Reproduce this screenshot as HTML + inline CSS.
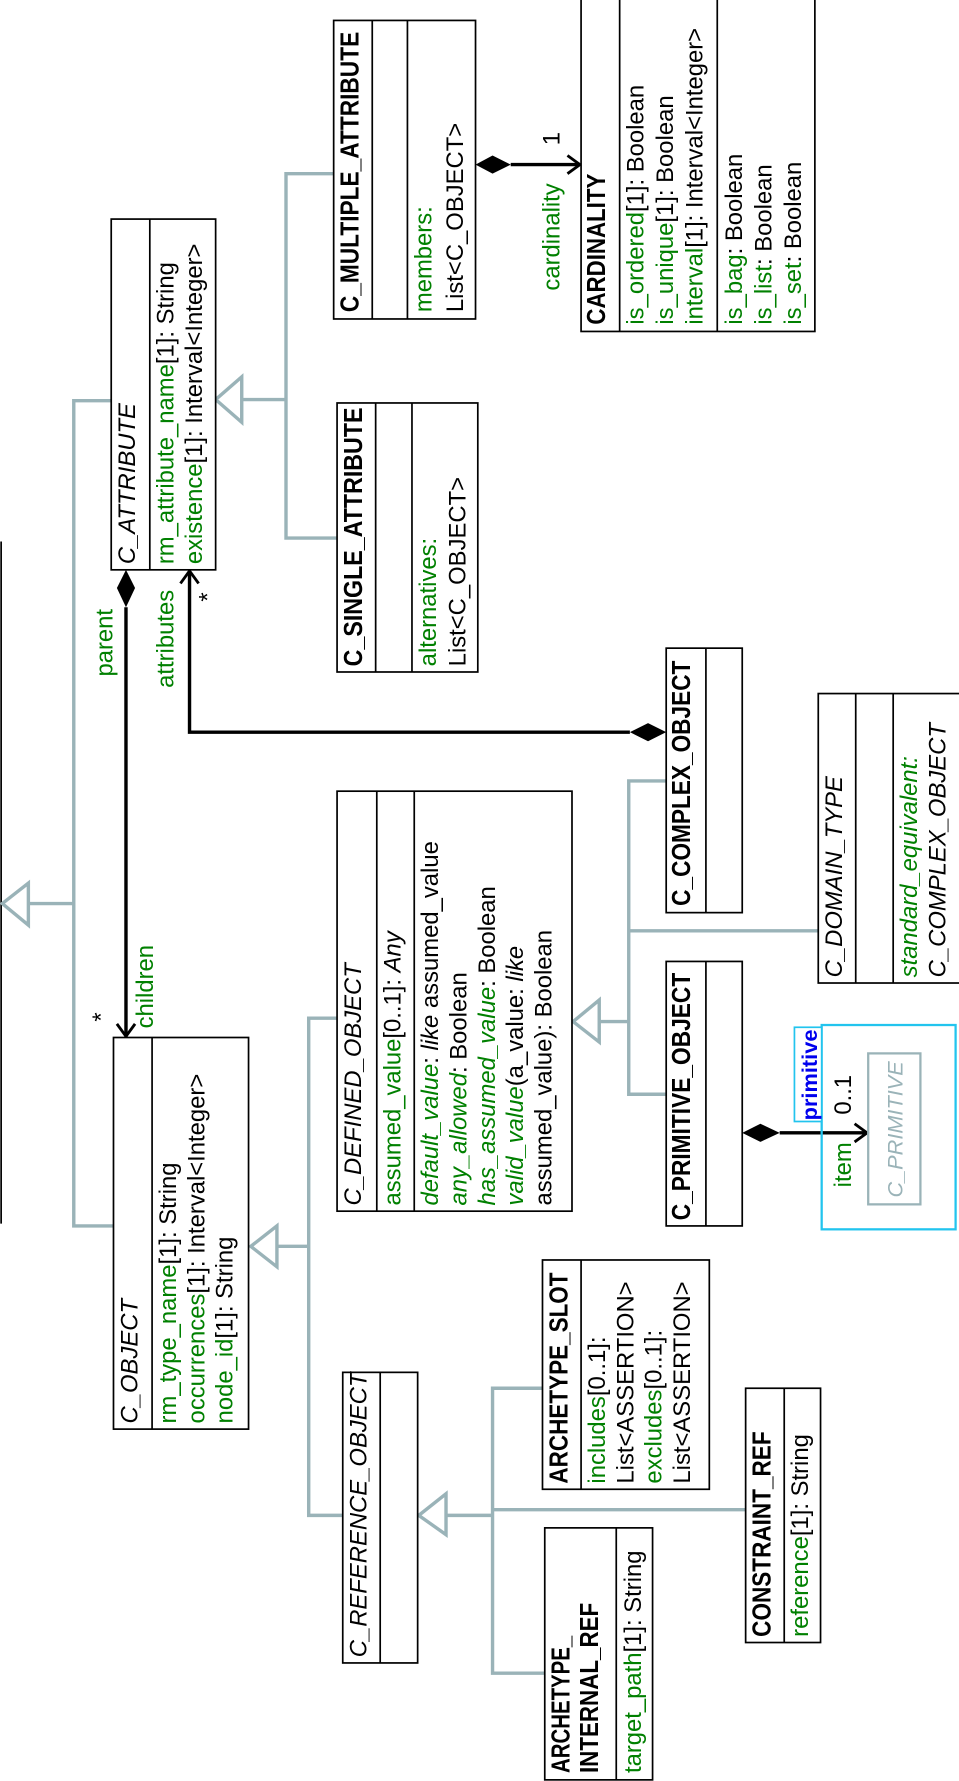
<!DOCTYPE html>
<html><head><meta charset="utf-8"><style>
html,body{margin:0;padding:0;background:#fff;}
svg{display:block;}
text{font-family:"Liberation Sans",sans-serif;font-size:21px;fill:#000;}
.b{font-weight:bold;font-size:23px;}
.i{font-style:italic;}
.g{fill:#008000;}
</style></head><body>
<svg width="959" height="1781" viewBox="0 0 845 1569" preserveAspectRatio="none" xmlns="http://www.w3.org/2000/svg">
<g fill="none" stroke="#9ab3b8" stroke-width="3">
<line x1="1" y1="477" x2="1" y2="1078" stroke="#000" stroke-width="1.5"/>
<polyline points="98,353 65,353 65,1080 100,1080"/>
<line x1="25" y1="796" x2="65" y2="796"/>
<polygon points="2,796 25,778 25,815" fill="#fff"/>
<polyline points="294,153 252,153 252,474 297,474"/>
<line x1="213" y1="352" x2="252" y2="352"/>
<polygon points="190,352 213,332 213,372" fill="#fff"/>
<polyline points="587,688 554,688 554,964 587,964"/>
<line x1="554" y1="820" x2="721" y2="820"/>
<line x1="528" y1="900" x2="554" y2="900"/>
<polygon points="505,900 528,881 528,918" fill="#fff"/>
<polyline points="297,897 272,897 272,1335 302,1335"/>
<line x1="244" y1="1098" x2="272" y2="1098"/>
<polygon points="221,1098 244,1080 244,1116" fill="#fff"/>
<polyline points="478,1223 434,1223 434,1474 480,1474"/>
<line x1="434" y1="1330" x2="657" y2="1330"/>
<line x1="393" y1="1335" x2="434" y2="1335"/>
<polygon points="369,1335 393,1316 393,1352" fill="#fff"/>
</g>
<g fill="none" stroke="#000" stroke-width="3">
<line x1="450" y1="145" x2="511" y2="145"/>
<polyline points="500,137 511,145 500,153" stroke-width="2.5"/>
<line x1="111" y1="535" x2="111" y2="913"/>
<polyline points="103,902 111,913 119,902" stroke-width="2.5"/>
<polyline points="555,645 167,645 167,503"/>
<polyline points="159,514 167,503 175,514" stroke-width="2.5"/>
<line x1="687" y1="998" x2="764" y2="998"/>
<polyline points="753,990 764,998 753,1006" stroke-width="2.5"/>
</g>
<g fill="#000">
<polygon points="419,145 434,137 450,145 434,153"/>
<polygon points="111,502 119,518 111,535 103,518"/>
<polygon points="587,645 571,637 555,645 571,653"/>
<polygon points="654,998 670,990 687,998 670,1006"/>
</g>
<g fill="#fff" stroke="#000" stroke-width="1.5">
<rect x="294" y="18" width="125" height="263"/><line x1="328" y1="18" x2="328" y2="281"/><line x1="359" y1="18" x2="359" y2="281"/>
<rect x="512" y="-5" width="206" height="297"/><line x1="546" y1="-5" x2="546" y2="292"/><line x1="632" y1="-5" x2="632" y2="292"/>
<rect x="98" y="193" width="92" height="309"/><line x1="132" y1="193" x2="132" y2="502"/>
<rect x="297" y="355" width="124" height="237"/><line x1="331" y1="355" x2="331" y2="592"/><line x1="363" y1="355" x2="363" y2="592"/>
<rect x="587" y="571" width="67" height="233"/><line x1="622" y1="571" x2="622" y2="804"/>
<rect x="721" y="611" width="130" height="255"/><line x1="754" y1="611" x2="754" y2="866"/><line x1="787" y1="611" x2="787" y2="866"/>
<rect x="587" y="847" width="67" height="233"/><line x1="622" y1="847" x2="622" y2="1080"/>
<rect x="297" y="697" width="207" height="370"/><line x1="332" y1="697" x2="332" y2="1067"/><line x1="365" y1="697" x2="365" y2="1067"/>
<rect x="100" y="914" width="119" height="345"/><line x1="134" y1="914" x2="134" y2="1259"/>
<rect x="302" y="1209" width="66" height="256"/><line x1="335" y1="1209" x2="335" y2="1465"/>
<rect x="478" y="1110" width="147" height="202"/><line x1="512" y1="1110" x2="512" y2="1312"/>
<rect x="657" y="1223" width="66" height="224"/><line x1="691" y1="1223" x2="691" y2="1447"/>
<rect x="480" y="1346" width="95" height="222"/><line x1="543" y1="1346" x2="543" y2="1568"/>
</g>
<rect x="724" y="903" width="118" height="180" fill="none" stroke="#22c4ee" stroke-width="2"/>
<rect x="700" y="905" width="24" height="83" fill="#fff" stroke="#22c4ee" stroke-width="1.5"/>
<rect x="765" y="928" width="46" height="133" fill="none" stroke="#9ab3b8" stroke-width="2"/>

<text class="b" transform="translate(316,275) rotate(-90)" textLength="247" lengthAdjust="spacingAndGlyphs">C_MULTIPLE_ATTRIBUTE</text>
<text class="g" transform="translate(380,275) rotate(-90)">members:</text>
<text transform="translate(408,275) rotate(-90)">List&lt;C_OBJECT&gt;</text>
<text transform="translate(493,128) rotate(-90)">1</text>
<text class="g" transform="translate(493,256) rotate(-90)">cardinality</text>

<text class="b" transform="translate(533,286) rotate(-90)" textLength="133" lengthAdjust="spacingAndGlyphs">CARDINALITY</text>
<text transform="translate(567,286) rotate(-90)"><tspan class="g">is_ordered</tspan>[1]: Boolean</text>
<text transform="translate(593,286) rotate(-90)"><tspan class="g">is_unique</tspan>[1]: Boolean</text>
<text transform="translate(619,286) rotate(-90)"><tspan class="g">interval</tspan>[1]: Interval&lt;Integer&gt;</text>
<text transform="translate(654,286) rotate(-90)"><tspan class="g">is_bag</tspan>: Boolean</text>
<text transform="translate(680,286) rotate(-90)"><tspan class="g">is_list</tspan>: Boolean</text>
<text transform="translate(706,286) rotate(-90)"><tspan class="g">is_set</tspan>: Boolean</text>

<text class="i" transform="translate(119,497) rotate(-90)">C_ATTRIBUTE</text>
<text transform="translate(153,497) rotate(-90)"><tspan class="g">rm_attribute_name</tspan>[1]: String</text>
<text transform="translate(178,497) rotate(-90)"><tspan class="g">existence</tspan>[1]: Interval&lt;Integer&gt;</text>

<text class="b" transform="translate(319,587) rotate(-90)" textLength="228" lengthAdjust="spacingAndGlyphs">C_SINGLE_ATTRIBUTE</text>
<text class="g" transform="translate(384,587) rotate(-90)">alternatives:</text>
<text transform="translate(410,587) rotate(-90)">List&lt;C_OBJECT&gt;</text>

<text class="g" transform="translate(99,596) rotate(-90)">parent</text>
<text class="g" transform="translate(153,606) rotate(-90)">attributes</text>
<text transform="translate(190,530) rotate(-90)">*</text>
<text class="g" transform="translate(135,906) rotate(-90)">children</text>
<text transform="translate(96,900) rotate(-90)">*</text>

<text class="b" transform="translate(608,798) rotate(-90)" textLength="216" lengthAdjust="spacingAndGlyphs">C_COMPLEX_OBJECT</text>
<text class="b" transform="translate(608,1075) rotate(-90)" textLength="218" lengthAdjust="spacingAndGlyphs">C_PRIMITIVE_OBJECT</text>
<text class="i" transform="translate(742,861) rotate(-90)">C_DOMAIN_TYPE</text>
<text class="i g" transform="translate(808,861) rotate(-90)">standard_equivalent:</text>
<text class="i" transform="translate(833,861) rotate(-90)">C_COMPLEX_OBJECT</text>

<text class="i" transform="translate(318,1062) rotate(-90)">C_DEFINED_OBJECT</text>
<text transform="translate(353,1062) rotate(-90)"><tspan class="g">assumed_value</tspan>[0..1]: <tspan class="i">Any</tspan></text>
<text transform="translate(386,1062) rotate(-90)"><tspan class="g i">default_value</tspan>: <tspan class="i">like</tspan> assumed_value</text>
<text transform="translate(411,1062) rotate(-90)"><tspan class="g i">any_allowed</tspan>: Boolean</text>
<text transform="translate(436,1062) rotate(-90)"><tspan class="g i">has_assumed_value</tspan>: Boolean</text>
<text transform="translate(461,1062) rotate(-90)"><tspan class="g i">valid_value</tspan>(a_value: <tspan class="i">like</tspan></text>
<text transform="translate(486,1062) rotate(-90)">assumed_value): Boolean</text>

<text transform="translate(720,987) rotate(-90)" style="fill:#0000ee;font-weight:bold;font-size:19px" textLength="80" lengthAdjust="spacingAndGlyphs">primitive</text>
<text transform="translate(750,982) rotate(-90)">0..1</text>
<text class="g" transform="translate(750,1046) rotate(-90)">item</text>
<text class="i" transform="translate(795,1055) rotate(-90)" style="fill:#9ab3b8;font-size:19px" textLength="120" lengthAdjust="spacingAndGlyphs">C_PRIMITIVE</text>

<text class="i" transform="translate(121,1254) rotate(-90)">C_OBJECT</text>
<text transform="translate(155,1254) rotate(-90)"><tspan class="g">rm_type_name</tspan>[1]: String</text>
<text transform="translate(180,1254) rotate(-90)"><tspan class="g">occurrences</tspan>[1]: Interval&lt;Integer&gt;</text>
<text transform="translate(205,1254) rotate(-90)"><tspan class="g">node_id</tspan>[1]: String</text>

<text class="i" transform="translate(323,1460) rotate(-90)">C_REFERENCE_OBJECT</text>

<text class="b" transform="translate(500,1307) rotate(-90)" textLength="186" lengthAdjust="spacingAndGlyphs">ARCHETYPE_SLOT</text>
<text transform="translate(533,1307) rotate(-90)"><tspan class="g">includes</tspan>[0..1]:</text>
<text transform="translate(558,1307) rotate(-90)">List&lt;ASSERTION&gt;</text>
<text transform="translate(583,1307) rotate(-90)"><tspan class="g">excludes</tspan>[0..1]:</text>
<text transform="translate(608,1307) rotate(-90)">List&lt;ASSERTION&gt;</text>

<text class="b" transform="translate(679,1442) rotate(-90)" textLength="181" lengthAdjust="spacingAndGlyphs">CONSTRAINT_REF</text>
<text transform="translate(712,1442) rotate(-90)"><tspan class="g">reference</tspan>[1]: String</text>

<text class="b" transform="translate(502,1562) rotate(-90)" textLength="121" lengthAdjust="spacingAndGlyphs">ARCHETYPE_</text>
<text class="b" transform="translate(527,1562) rotate(-90)" textLength="150" lengthAdjust="spacingAndGlyphs">INTERNAL_REF</text>
<text transform="translate(565,1562) rotate(-90)"><tspan class="g">target_path</tspan>[1]: String</text>
</svg>
</body></html>
